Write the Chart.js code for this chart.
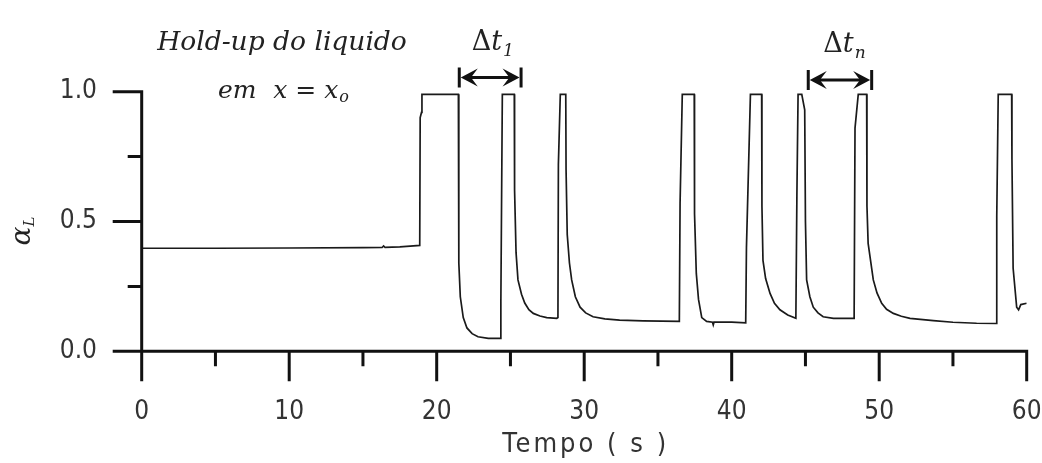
<!DOCTYPE html>
<html><head><meta charset="utf-8">
<script src="https://cdn.jsdelivr.net/npm/chart.js@4.4.1/dist/chart.umd.min.js"></script>
<style>html,body{margin:0;padding:0;background:#fff}canvas{display:block}</style>
</head><body>
<canvas id="c" width="1042" height="463"></canvas>
<script>
// ---- data ----
const time = [0,5,10,15,16.3,16.4,16.5,17.5,18.2,18.85,18.88,18.97,19.0,21.47,21.5,21.6,21.8,22.05,22.4,22.8,23.5,24.3,24.35,24.45,25.26,25.28,25.38,25.51,25.75,25.97,26.25,26.55,27.0,27.46,28.14,28.22,28.25,28.38,28.75,28.77,28.85,29.0,29.15,29.4,29.72,30.1,30.6,31.4,32.4,34.0,36.45,36.5,36.65,37.46,37.48,37.6,37.75,37.97,38.3,38.7,38.75,38.8,40.0,40.95,41.0,41.27,42.03,42.05,42.12,42.3,42.6,42.9,43.27,43.8,44.35,44.42,44.5,44.75,44.95,45.0,45.08,45.3,45.53,45.85,46.2,46.9,48.3,48.36,48.58,49.15,49.17,49.25,49.6,49.85,50.17,50.5,50.96,51.5,52.09,53.67,55.0,56.6,57.95,57.97,58.07,58.98,59.0,59.08,59.32,59.45,59.6,60];
const holdup = [0.397,0.397,0.398,0.399,0.400,0.406,0.400,0.402,0.405,0.408,0.90,0.92,0.99,0.99,0.34,0.21,0.13,0.09,0.068,0.056,0.05,0.05,0.19,0.99,0.99,0.62,0.38,0.275,0.22,0.186,0.16,0.146,0.136,0.13,0.127,0.13,0.72,0.99,0.99,0.70,0.45,0.34,0.275,0.21,0.17,0.148,0.133,0.125,0.12,0.117,0.115,0.57,0.99,0.99,0.53,0.30,0.20,0.13,0.115,0.112,0.102,0.112,0.112,0.11,0.40,0.99,0.99,0.56,0.35,0.28,0.223,0.185,0.16,0.14,0.127,0.60,0.99,0.99,0.93,0.50,0.275,0.21,0.17,0.148,0.133,0.127,0.127,0.86,0.99,0.99,0.56,0.416,0.275,0.225,0.185,0.162,0.146,0.135,0.127,0.118,0.112,0.108,0.107,0.52,0.99,0.99,0.74,0.32,0.17,0.16,0.18,0.185];
const xTickValues = [0,10,20,30,40,50,60];
const xMinorTicks = [5,15,25,35,45,55];
const yTickValues = [0,0.5,1.0];
const yMinorTicks = [0.25,0.75];
const xTitle = 'Tempo ( s )';
const yTitle = 'α';
const yTitleSub = 'L';
const noteLine1 = 'Hold-up do liquido';
const noteLine2a = 'em';
const noteLine2b = 'x = x';
const noteLine2sub = 'o';
const deltaSymbol = 'Δ';
const deltaVar = 't';
const deltaSub1 = '1';
const deltaSubN = 'n';

const TICK_FONT = '"DejaVu Sans Condensed", "DejaVu Sans", sans-serif';
const SERIF = '"DejaVu Serif", "Liberation Serif", serif';

function dblArrow(ctx, xa, xb, yy) {
  ctx.lineWidth = 3;
  ctx.beginPath();
  ctx.moveTo(xa, yy - 10); ctx.lineTo(xa, yy + 10);
  ctx.moveTo(xb, yy - 10); ctx.lineTo(xb, yy + 10);
  ctx.moveTo(xa + 8, yy); ctx.lineTo(xb - 8, yy);
  ctx.stroke();
  const head = (xt, dir) => {
    const L = 17, W = 9, s = 1.5;
    ctx.beginPath();
    ctx.moveTo(xt + dir * s, yy);
    ctx.lineTo(xt + dir * (s + L), yy - W);
    ctx.lineTo(xt + dir * (s + L * 0.6), yy);
    ctx.lineTo(xt + dir * (s + L), yy + W);
    ctx.closePath();
    ctx.fill();
  };
  head(xa, 1); head(xb, -1);
}

const decor = {
  id: 'decor',
  afterDatasetsDraw(chart) {
    const {ctx, scales: {x, y}} = chart;
    const X = v => x.getPixelForValue(v), Y = v => y.getPixelForValue(v);
    const x0 = X(0), y0 = Y(0);
    ctx.save();
    ctx.strokeStyle = '#111'; ctx.fillStyle = '#111';
    ctx.lineWidth = 3; ctx.lineCap = 'butt';
    ctx.beginPath();
    ctx.moveTo(x0 - 29, y0); ctx.lineTo(X(60) + 1.5, y0);
    ctx.moveTo(x0, Y(1) - 1.5); ctx.lineTo(x0, y0 + 30);
    xTickValues.forEach(v => { if (v !== 0) { ctx.moveTo(X(v), y0); ctx.lineTo(X(v), y0 + 30); } });
    xMinorTicks.forEach(v => { ctx.moveTo(X(v), y0); ctx.lineTo(X(v), y0 + 15); });
    yTickValues.forEach(v => { if (v !== 0) { ctx.moveTo(x0 - 29, Y(v)); ctx.lineTo(x0, Y(v)); } });
    yMinorTicks.forEach(v => { ctx.moveTo(x0 - 14, Y(v)); ctx.lineTo(x0, Y(v)); });
    ctx.stroke();

    // double arrows
    dblArrow(ctx, X(21.53), X(25.72), Y(1.055));
    dblArrow(ctx, X(45.19), X(49.49), Y(1.045));

    // annotation texts
    ctx.fillStyle = '#222';
    ctx.textBaseline = 'alphabetic';
    ctx.textAlign = 'center';
    ctx.font = 'italic 26.5px ' + SERIF;
    ctx.fillText(noteLine1, X(9.51), Y(1.161));
    ctx.textAlign = 'left';
    ctx.font = 'italic 25px ' + SERIF;
    ctx.fillText(noteLine2a, X(5.17), Y(0.975));
    const bx = X(8.92);
    ctx.fillText(noteLine2b, bx, Y(0.975));
    const w2 = ctx.measureText(noteLine2b).width;
    ctx.font = 'italic 16px ' + SERIF;
    ctx.fillText(noteLine2sub, bx + w2 + 1, Y(0.975) + 4);

    const delta = (tLeft, base, sub) => {
      let px = X(tLeft);
      ctx.font = '27px ' + SERIF;
      ctx.fillText(deltaSymbol, px, base);
      px += ctx.measureText(deltaSymbol).width;
      ctx.font = 'italic 27px ' + SERIF;
      ctx.fillText(deltaVar, px, base);
      px += ctx.measureText(deltaVar).width + 1;
      ctx.font = 'italic 17px ' + SERIF;
      ctx.fillText(sub, px, base + 6);
    };
    delta(22.37, Y(1.161), deltaSub1);
    delta(46.21, Y(1.152), deltaSubN);

    // x title
    ctx.font = '27px ' + TICK_FONT;
    ctx.fillStyle = '#333';
    ctx.textAlign = 'center';
    try { ctx.letterSpacing = '3px'; } catch (e) {}
    ctx.fillText(xTitle, (x.left + x.right) / 2 + 1.5, 452);
    try { ctx.letterSpacing = '0px'; } catch (e) {}

    // y title (rotated)
    ctx.save();
    ctx.translate(30, 231);
    ctx.rotate(-Math.PI / 2);
    ctx.fillStyle = '#222';
    ctx.textAlign = 'left';
    ctx.font = 'italic 28px ' + SERIF;
    const wa = ctx.measureText(yTitle).width;
    ctx.font = 'italic 15px ' + SERIF;
    const wl = ctx.measureText(yTitleSub).width;
    const start = -(wa + wl) / 2;
    ctx.font = 'italic 28px ' + SERIF;
    ctx.fillText(yTitle, start, 0);
    ctx.font = 'italic 15px ' + SERIF;
    ctx.fillText(yTitleSub, start + wa, 4);
    ctx.restore();

    ctx.restore();
  }
};

new Chart(document.getElementById('c'), {
  type: 'line',
  data: {
    datasets: [{
      data: time.map((t, i) => ({x: t, y: holdup[i]})),
      borderColor: '#1a1a1a',
      borderWidth: 1.7,
      pointRadius: 0,
      tension: 0,
      fill: false
    }]
  },
  options: {
    responsive: false,
    animation: false,
    devicePixelRatio: 1,
    layout: {padding: {top: 91.7, right: 15.3, left: 0, bottom: 0}},
    plugins: {legend: {display: false}, tooltip: {enabled: false}},
    scales: {
      x: {
        type: 'linear', min: 0, max: 60,
        afterBuildTicks: s => { s.ticks = xTickValues.map(v => ({value: v})); },
        afterFit: s => { s.height = 463 - 351.3; s.paddingLeft = 0; s.paddingRight = 0; },
        grid: {display: false, drawTicks: false},
        border: {display: false},
        ticks: {font: {family: TICK_FONT, size: 26}, color: '#333', padding: 45, maxRotation: 0, autoSkip: false,
                callback: v => String(v)}
      },
      y: {
        type: 'linear', min: 0, max: 1,
        afterBuildTicks: s => { s.ticks = yTickValues.map(v => ({value: v})); },
        afterFit: s => { s.width = 141.7; s.paddingTop = 0; s.paddingBottom = 0; },
        grid: {display: false, drawTicks: false},
        border: {display: false},
        ticks: {font: {family: TICK_FONT, size: 26}, color: '#333', padding: 44.7,
                callback: v => Number(v).toFixed(1)}
      }
    }
  },
  plugins: [decor]
});
</script>
</body></html>
